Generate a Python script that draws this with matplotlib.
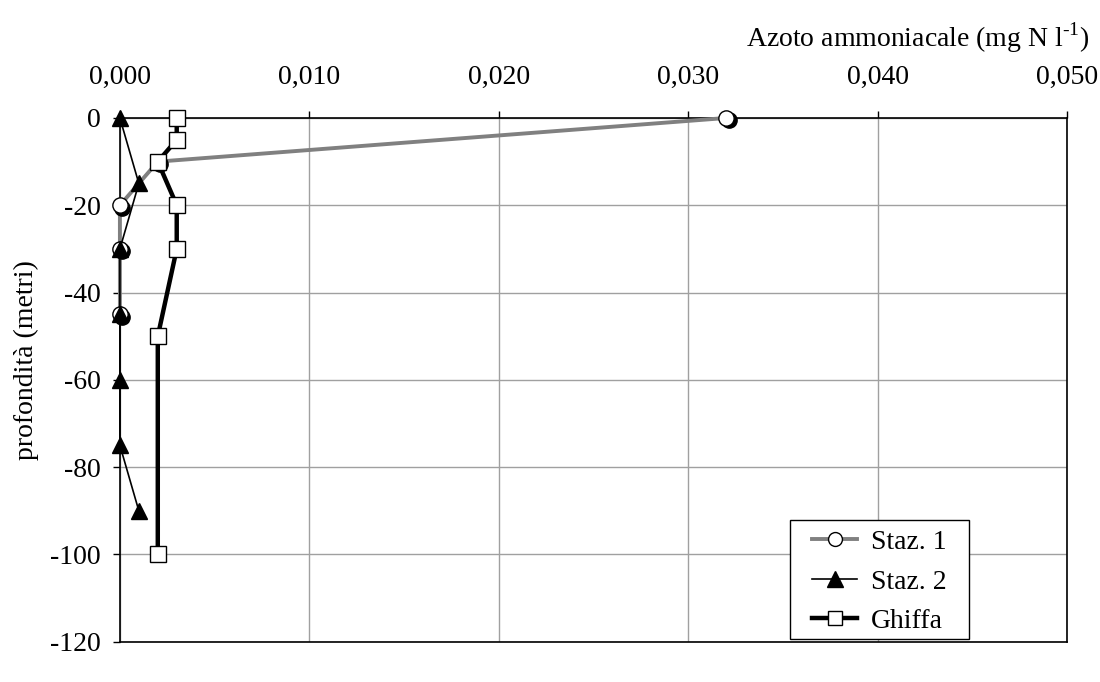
import matplotlib
matplotlib.use("Agg")
import matplotlib.pyplot as plt
from matplotlib.lines import Line2D
from matplotlib.patches import Rectangle
from matplotlib.ticker import FuncFormatter, MultipleLocator
from matplotlib.transforms import offset_copy

plt.rcParams["font.family"] = ["Liberation Serif", "DejaVu Serif"]
plt.rcParams["mathtext.fontset"] = "custom"
plt.rcParams["mathtext.rm"] = "Liberation Serif"
plt.rcParams["axes.unicode_minus"] = False

# --- dati (azoto ammoniacale, mg N/l) ---
staz1_x = [0.032, 0.002, 0.000, 0.000, 0.000]
staz1_z = [0, -10, -20, -30, -45]

staz2_x = [0.000, 0.001, 0.000, 0.000, 0.000, 0.000, 0.001]
staz2_z = [0, -15, -30, -45, -60, -75, -90]

ghiffa_x = [0.003, 0.003, 0.002, 0.003, 0.003, 0.002, 0.002]
ghiffa_z = [0, -5, -10, -20, -30, -50, -100]

xticks = [0.0, 0.01, 0.02, 0.03, 0.04, 0.05]

FS = 20

fig = plt.figure(figsize=(11, 6.82), dpi=100)
ax = fig.add_axes([0.109, 0.059, 0.861, 0.768])

# Staz. 1: linea grigia, cerchi bianchi con ombra nera
ax.plot(staz1_x, staz1_z, color="#808080", lw=2.8, zorder=3, clip_on=False)
shadow = offset_copy(ax.transData, fig=fig, x=2.5, y=-2.5, units="dots")
ax.plot(staz1_x, staz1_z, ls="none", marker="o", ms=11, mfc="black",
        mec="black", transform=shadow, zorder=3.5, clip_on=False)
ax.plot(staz1_x, staz1_z, ls="none", marker="o", ms=11, mfc="white",
        mec="black", mew=1.0, zorder=4, clip_on=False)
# Staz. 2
ax.plot(staz2_x, staz2_z, color="black", lw=1.2, marker="^", ms=12,
        mfc="black", mec="black", zorder=5, clip_on=False)
# Ghiffa
ax.plot(ghiffa_x, ghiffa_z, color="black", lw=3.2, marker="s", ms=12,
        mfc="white", mec="black", mew=1.0, zorder=6, clip_on=False)

ax.set_xlim(0, 0.05)
ax.set_ylim(-120, 0)
ax.set_xticks(xticks)
ax.yaxis.set_major_locator(MultipleLocator(20))
ax.xaxis.set_major_formatter(FuncFormatter(lambda v, p: f"{v:.3f}".replace(".", ",")))
ax.xaxis.tick_top()
ax.tick_params(axis="both", direction="out", length=5, width=1, labelsize=FS)
ax.tick_params(axis="x", pad=15)
ax.tick_params(axis="y", pad=9)
ax.grid(True, color="#a0a0a0", lw=1.0)
ax.set_axisbelow(True)
for s in ax.spines.values():
    s.set_linewidth(1.2)
    s.set_color("black")

ax.set_ylabel("profondità (metri)", fontsize=FS)
ax.yaxis.set_label_coords(-0.085, 0.538)
fig.text(0.99, 0.945, r"Azoto ammoniacale (mg N l$^{\text{-1}}$)",
         ha="right", va="center", fontsize=FS)

# legenda: cornice disegnata a parte per avere i margini dell'originale
ax.add_patch(Rectangle((0.708, 0.006), 0.188, 0.227, transform=ax.transAxes,
                       facecolor="white", edgecolor="black", lw=1.0,
                       zorder=9, clip_on=False))
handles = [
    Line2D([], [], color="#808080", lw=2.8, marker="o", ms=10, mfc="white", mec="black"),
    Line2D([], [], color="black", lw=1.2, marker="^", ms=11, mfc="black", mec="black"),
    Line2D([], [], color="black", lw=3.2, marker="s", ms=10, mfc="white", mec="black"),
]
leg = ax.legend(handles, ["Staz. 1", "Staz. 2", "Ghiffa"], loc="center",
                bbox_to_anchor=(0.802, 0.1145), fontsize=FS, frameon=False,
                handlelength=1.6, handletextpad=0.5, borderpad=0.0,
                labelspacing=0.5, borderaxespad=0)
leg.set_zorder(10)

fig.savefig("out.png", dpi=100)
